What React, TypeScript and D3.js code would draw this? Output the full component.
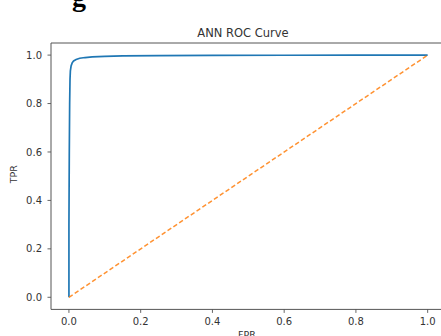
import React from "react";
import * as d3 from "d3";

// ROC curve of the ANN classifier (false positive rate vs true positive rate)
const fpr = [0, 0.0, 0.001, 0.002, 0.003, 0.004, 0.006, 0.009, 0.013, 0.02, 0.03, 0.045, 0.065, 0.1, 0.15, 0.25, 0.4, 0.6, 0.8, 1.0];
const tpr = [0, 0.3, 0.6, 0.8, 0.9, 0.935, 0.955, 0.968, 0.976, 0.982, 0.987, 0.99, 0.993, 0.995, 0.997, 0.998, 0.999, 0.9995, 1.0, 1.0];

// chance diagonal
const chanceX = [0, 1];
const chanceY = [0, 1];

const xTicks = [0, 0.2, 0.4, 0.6, 0.8, 1.0];
const yTicks = [0, 0.2, 0.4, 0.6, 0.8, 1.0];

const W = 441;
const H = 336;
const left = 51;
const right = 445.6;
const top = 43;
const bottom = 309.4;

export default function App() {
  const x = d3.scaleLinear().domain([-0.05, 1.05]).range([left, right]);
  const y = d3.scaleLinear().domain([-0.05, 1.05]).range([bottom, top]);

  const line = d3
    .line<[number, number]>()
    .x((d) => x(d[0]))
    .y((d) => y(d[1]));

  const roc = line(fpr.map((v, i) => [v, tpr[i]] as [number, number])) || "";
  const chance = line(chanceX.map((v, i) => [v, chanceY[i]] as [number, number])) || "";

  const font = "'DejaVu Sans', sans-serif";
  const ink = "#333";

  return (
    <div
      style={{
        position: "fixed",
        left: 0,
        top: 0,
        width: W,
        height: H,
        overflow: "hidden",
        background: "#fff",
      }}
    >
      <svg width={W} height={H} style={{ display: "block", overflow: "hidden" }}>
        <rect x={0} y={0} width={W} height={H} fill="#fff" />
        <text
          x={72}
          y={6}
          fontFamily="'Liberation Serif', serif"
          fontWeight="bold"
          fontSize={28}
          fill="#000"
        >
          g
        </text>

        <defs>
          <clipPath id="plot">
            <rect x={left} y={top} width={right - left} height={bottom - top} />
          </clipPath>
        </defs>

        <g clipPath="url(#plot)">
          <path d={roc} fill="none" stroke="#1f77b4" strokeWidth={1.7} />
          <path
            d={chance}
            fill="none"
            stroke="#ff7f0e"
            strokeWidth={1.5}
            strokeDasharray="4.5,2.5"
            opacity={0.85}
          />
        </g>

        {/* spines */}
        <line x1={left} x2={left} y1={top} y2={bottom} stroke="#555" strokeWidth={1} />
        <line x1={left} x2={W} y1={bottom} y2={bottom} stroke="#555" strokeWidth={1} />
        <line x1={left} x2={W} y1={top} y2={top} stroke="#555" strokeWidth={1} />

        {xTicks.map((t) => (
          <g key={"x" + t}>
            <line x1={x(t)} x2={x(t)} y1={bottom} y2={bottom + 3.5} stroke="#555" strokeWidth={0.9} />
            <text
              x={x(t)}
              y={325}
              textAnchor="middle"
              fontFamily={font}
              fontSize={10}
              fill={ink}
            >
              {t.toFixed(1)}
            </text>
          </g>
        ))}

        {yTicks.map((t) => (
          <g key={"y" + t}>
            <line x1={left - 3.5} x2={left} y1={y(t)} y2={y(t)} stroke="#555" strokeWidth={0.9} />
            <text
              x={42}
              y={y(t)}
              dy="0.36em"
              textAnchor="end"
              fontFamily={font}
              fontSize={10}
              fill={ink}
            >
              {t.toFixed(1)}
            </text>
          </g>
        ))}

        <text
          x={243}
          y={37}
          textAnchor="middle"
          fontFamily={font}
          fontSize={11.5}
          fill={ink}
        >
          ANN ROC Curve
        </text>

        <text
          x={247}
          y={338}
          textAnchor="middle"
          fontFamily={font}
          fontSize={9.5}
          fill={ink}
        >
          FPR
        </text>

        <text
          transform={`translate(17,${(top + bottom) / 2 - 2}) rotate(-90)`}
          textAnchor="middle"
          fontFamily={font}
          fontSize={9.5}
          fill={ink}
        >
          TPR
        </text>
      </svg>
    </div>
  );
}
